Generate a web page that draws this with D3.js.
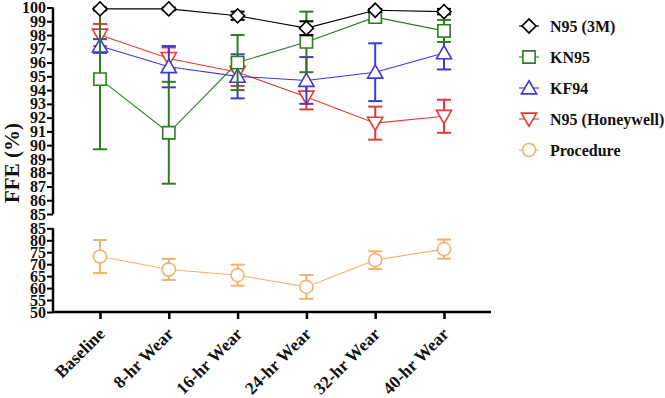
<!DOCTYPE html>
<html>
<head>
<meta charset="utf-8">
<script src="https://cdn.jsdelivr.net/npm/d3@7"></script>
<style>
  body { margin: 0; background: #fff; }
  svg { display: block; font-family: "Liberation Serif", "Times New Roman", serif; font-weight: bold; }
</style>
</head>
<body>
<div id="chart"></div>
<script>
// === DATA ===
const categories = ["Baseline", "8-hr Wear", "16-hr Wear", "24-hr Wear", "32-hr Wear", "40-hr Wear"];

const n95_3m     = [99.9, 99.9, 99.4, 98.5, 99.8, 99.7];
const n95_3mErr  = [0.1, 0.1, 0.3, 0.5, 0.1, 0.2];
const kn95       = [94.8, 90.9, 96.0, 97.5, 99.3, 98.3];
const kn95Err    = [5.1, 3.7, 2.0, 2.2, 0.3, 0.8];
const kf94       = [97.2, 95.7, 95.0, 94.7, 95.3, 96.7];
const kf94Err    = [0.5, 1.5, 1.6, 1.7, 2.1, 1.2];
const honeywell  = [98.0, 96.3, 95.3, 93.5, 91.6, 92.1];
const honeyErr   = [0.8, 0.8, 1.0, 0.9, 1.2, 1.2];
const procedure  = [73.2, 67.8, 65.4, 60.5, 71.7, 76.3];
const procErr    = [6.9, 4.4, 4.4, 5.0, 3.7, 4.0];

const topTicks = d3.range(85, 101, 1);
const bottomTicks = [50, 55, 60, 65, 70, 75, 80, 85];

// === LAYOUT ===
const W = 665, H = 398;
const svg = d3.select("#chart").append("svg").attr("width", W).attr("height", H);

const x = d3.scalePoint().domain(categories).range([53, 491]).padding(0.683);
const yTop = d3.scaleLinear().domain([85, 100]).range([214, 7.5]);
const yBot = d3.scaleLinear().domain([50, 85]).range([312, 228.3]);

// === AXES ===
function yAxis(scale, ticks) {
  const g = svg.append("g").attr("transform", "translate(53,0)")
    .call(d3.axisLeft(scale).tickValues(ticks).tickSize(6).tickPadding(1).tickFormat(d3.format("d")));
  g.select(".domain").attr("stroke-width", 2.5).attr("d", `M0,${scale.range()[0]}V${scale.range()[1]}`);
  g.selectAll(".tick line").attr("stroke-width", 2);
  g.selectAll(".tick text").attr("font-size", 16).attr("font-family", "Liberation Serif").attr("font-weight", "bold").attr("fill", "#111");
}
yAxis(yTop, topTicks);
yAxis(yBot, bottomTicks);

// x axis
const gx = svg.append("g").attr("transform", "translate(0,312)")
  .call(d3.axisBottom(x).tickSize(7).tickFormat(""));
gx.select(".domain").attr("stroke-width", 2.5).attr("d", "M53,0H491");
gx.selectAll(".tick line").attr("stroke-width", 2.5);

svg.append("g").selectAll("text").data(categories).join("text")
  .attr("transform", d => `translate(${x(d) + 6},335) rotate(-45)`)
  .attr("text-anchor", "end")
  .attr("font-size", 17.5)
  .attr("fill", "#111")
  .text(d => d);

// y title
svg.append("text")
  .attr("transform", "translate(19,163) rotate(-90)")
  .attr("text-anchor", "middle")
  .attr("font-size", 21)
  .attr("fill", "#111")
  .text("FFE (%)");

// === SERIES ===
const series = [
  { name: "Procedure", values: procedure, err: procErr, color: "#f2b26e", y: yBot, symbol: d3.symbolCircle, size: 135, rot: 0 },
  { name: "N95 (Honeywell)", values: honeywell, err: honeyErr, color: "#e23b35", y: yTop, symbol: d3.symbolTriangle, size: 100, rot: 180 },
  { name: "KF94", values: kf94, err: kf94Err, color: "#3b3bd4", y: yTop, symbol: d3.symbolTriangle, size: 100, rot: 0 },
  { name: "KN95", values: kn95, err: kn95Err, color: "#2f7d22", y: yTop, symbol: d3.symbolSquare, size: 150, rot: 0 },
  { name: "N95 (3M)", values: n95_3m, err: n95_3mErr, color: "#000000", y: yTop, symbol: d3.symbolSquare, size: 98, rot: 45 }
];

series.forEach(s => {
  const pts = categories.map((c, i) => ({ c, v: s.values[i], e: s.err[i] }));
  const g = svg.append("g");
  g.append("path")
    .datum(pts)
    .attr("fill", "none")
    .attr("stroke", s.color)
    .attr("stroke-width", 1.1)
    .attr("d", d3.line().x(d => x(d.c)).y(d => s.y(d.v)));
  // error bars
  const eb = g.selectAll(".eb").data(pts).join("g").attr("stroke", s.color).attr("stroke-width", 2);
  eb.append("line")
    .attr("x1", d => x(d.c)).attr("x2", d => x(d.c))
    .attr("y1", d => s.y(d.v + d.e)).attr("y2", d => s.y(d.v - d.e));
  eb.append("line")
    .attr("x1", d => x(d.c) - 7).attr("x2", d => x(d.c) + 7)
    .attr("y1", d => s.y(d.v + d.e)).attr("y2", d => s.y(d.v + d.e));
  eb.append("line")
    .attr("x1", d => x(d.c) - 7).attr("x2", d => x(d.c) + 7)
    .attr("y1", d => s.y(d.v - d.e)).attr("y2", d => s.y(d.v - d.e));
  // markers
  g.selectAll(".m").data(pts).join("path")
    .attr("d", d3.symbol().type(s.symbol).size(s.size))
    .attr("transform", d => `translate(${x(d.c)},${s.y(d.v) + (s.symbol === d3.symbolTriangle ? (s.rot ? -1.5 : 1.5) : 0)}) rotate(${s.rot})`)
    .attr("fill", "#fff")
    .attr("stroke", s.color)
    .attr("stroke-width", 1.6);
});

// === LEGEND ===
const legendOrder = ["N95 (3M)", "KN95", "KF94", "N95 (Honeywell)", "Procedure"];
const legend = svg.append("g");
legendOrder.forEach((name, i) => {
  const s = series.find(d => d.name === name);
  const ly = 26 + i * 31;
  legend.append("line")
    .attr("x1", 519).attr("x2", 539).attr("y1", ly).attr("y2", ly)
    .attr("stroke", s.color).attr("stroke-width", 1.1);
  legend.append("path")
    .attr("d", d3.symbol().type(s.symbol).size(s.size))
    .attr("transform", `translate(529,${ly + (s.symbol === d3.symbolTriangle ? (s.rot ? -1.5 : 1.5) : 0)}) rotate(${s.rot})`)
    .attr("fill", "#fff").attr("stroke", s.color).attr("stroke-width", 1.6);
  legend.append("text")
    .attr("x", 550).attr("y", ly).attr("dy", "0.35em")
    .attr("font-size", 16).attr("fill", "#111")
    .text(name);
});
</script>
</body>
</html>
